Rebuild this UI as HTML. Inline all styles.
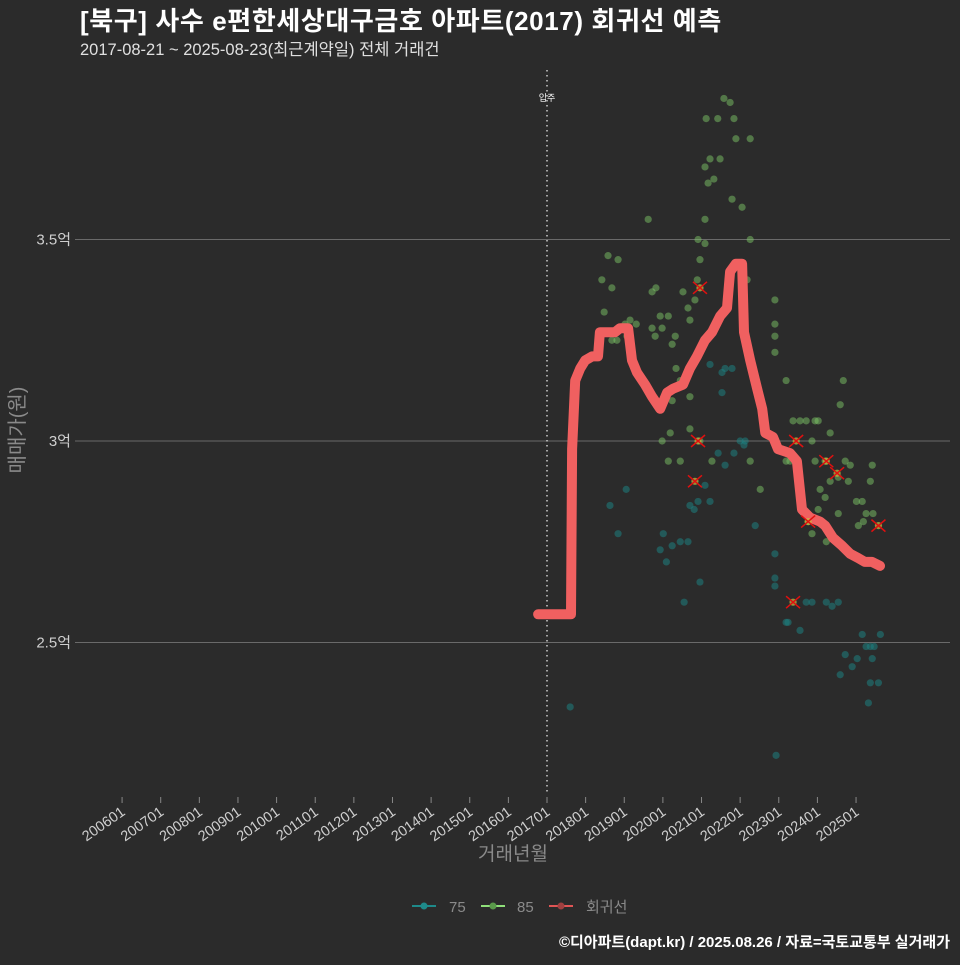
<!DOCTYPE html>
<html><head><meta charset="utf-8"><style>
body{margin:0;background:#2b2b2b;}
svg text{font-family:"Liberation Sans","Noto Sans CJK KR",sans-serif;}
</style></head><body>
<svg id="c" width="960" height="960" xmlns="http://www.w3.org/2000/svg">
<rect width="960" height="960" fill="#2b2b2b"/>
<text x="80" y="30" font-size="26" font-weight="bold" letter-spacing="0.6" fill="#ffffff">[북구] 사수 e편한세상대구금호 아파트(2017) 회귀선 예측</text>
<text x="80" y="55" font-size="16.5" fill="#e0e0e0">2017-08-21 ~ 2025-08-23(최근계약일) 전체 거래건</text>
<g id="grid"></g><g id="pts"></g><g id="line"></g><g id="marks"></g><g id="axes"></g>
<text transform="translate(24,430) rotate(-90)" text-anchor="middle" font-size="20" fill="#8a8a8a">매매가(원)</text>
<text x="513" y="860" text-anchor="middle" font-size="19" fill="#8a8a8a">거래년월</text>
<g>
<g><line x1="412" y1="906" x2="436" y2="906" stroke="#1e8a8a" stroke-width="2"/><circle cx="424" cy="906" r="3.5" fill="#1e8a8a"/><text x="449" y="912" font-size="15" fill="#8a8a8a">75</text></g>
<g><line x1="481" y1="906" x2="505" y2="906" stroke="#8fe07a" stroke-width="2"/><circle cx="493" cy="906" r="3.5" fill="#5a9a4a"/><text x="517" y="912" font-size="15" fill="#8a8a8a">85</text></g>
<g><line x1="549" y1="906" x2="573" y2="906" stroke="#e05555" stroke-width="2"/><circle cx="561" cy="906" r="3.5" fill="#a04040"/><text x="586" y="912" font-size="15" fill="#8a8a8a">회귀선</text></g>
</g>
<text x="950" y="947" text-anchor="end" font-size="15" font-weight="bold" fill="#ffffff">©디아파트(dapt.kr) / 2025.08.26 / 자료=국토교통부 실거래가</text>
</svg>
<script>
const yTicks=[2.5,3,3.5];
const yTickLabels=["2.5억","3억","3.5억"];
const xTickYears=[2006,2007,2008,2009,2010,2011,2012,2013,2014,2015,2016,2017,2018,2019,2020,2021,2022,2023,2024,2025];
const moveInYear=2017;
const lineT=[2016.77,2017.62,2017.65,2017.73,2017.86,2017.99,2018.17,2018.32,2018.37,2018.76,2018.89,2019.10,2019.20,2019.33,2019.54,2019.72,2019.93,2020.11,2020.27,2020.52,2020.70,2020.88,2021.09,2021.27,2021.48,2021.66,2021.74,2021.89,2022.05,2022.10,2022.26,2022.44,2022.57,2022.65,2022.85,2022.98,2023.29,2023.47,2023.60,2023.81,2024.07,2024.20,2024.40,2024.64,2024.85,2025.05,2025.23,2025.41,2025.62];
const lineV=[2.57,2.57,2.98,3.15,3.18,3.20,3.21,3.21,3.27,3.27,3.28,3.28,3.20,3.17,3.14,3.11,3.08,3.12,3.13,3.14,3.18,3.21,3.25,3.27,3.31,3.33,3.42,3.44,3.44,3.27,3.20,3.13,3.08,3.02,3.01,2.98,2.97,2.95,2.83,2.81,2.80,2.79,2.76,2.74,2.72,2.71,2.70,2.70,2.69];
const g85T=[2018.42,2018.58,2018.68,2018.84,2018.68,2018.81,2018.48,2019.02,2019.15,2019.07,2019.31,2019.62,2019.72,2019.82,2019.72,2019.80,2019.93,2019.98,2020.14,2020.24,2020.32,2020.52,2020.65,2020.34,2020.45,2020.24,2020.70,2020.70,2020.83,2020.89,2020.96,2020.91,2021.09,2021.09,2021.17,2021.09,2021.12,2021.22,2021.32,2021.42,2021.48,2021.58,2021.74,2021.84,2021.89,2021.79,2022.05,2022.26,2022.26,2022.18,2022.90,2022.90,2022.90,2022.90,2023.19,2023.37,2023.55,2023.71,2023.94,2024.02,2023.86,2023.29,2023.19,2023.94,2024.20,2024.33,2024.59,2024.67,2024.07,2024.33,2024.54,2024.72,2024.80,2024.85,2025.01,2025.16,2025.42,2025.26,2025.37,2025.44,2025.19,2025.06,2024.20,2024.02,2023.76,2023.86,2024.23,2024.54,2020.19,2020.14,2019.98,2020.45,2020.70,2020.96,2021.27,2022.26,2022.52];
const g85V=[3.40,3.46,3.38,3.45,3.25,3.25,3.32,3.29,3.30,3.26,3.29,3.55,3.37,3.38,3.28,3.26,3.31,3.28,3.31,3.24,3.26,3.37,3.33,3.18,3.15,3.10,3.11,3.30,3.35,3.40,3.45,3.50,3.49,3.55,3.64,3.68,3.80,3.70,3.65,3.80,3.70,3.85,3.84,3.80,3.75,3.60,3.58,3.75,3.50,3.40,3.35,3.29,3.26,3.22,3.15,3.05,3.05,3.05,3.05,3.05,3.00,2.95,2.95,2.95,2.95,3.02,3.09,3.15,2.88,2.90,2.91,2.95,2.90,2.94,2.85,2.85,2.94,2.82,2.90,2.82,2.80,2.79,2.86,2.83,2.80,2.77,2.75,2.82,3.02,2.95,3.00,2.95,3.03,3.00,2.95,2.95,2.88];
const g75T=[2017.60,2018.63,2018.84,2019.05,2020.01,2019.93,2020.09,2020.24,2020.45,2020.65,2020.70,2020.81,2020.91,2021.09,2021.22,2020.55,2020.96,2021.43,2021.61,2021.84,2022.00,2022.13,2021.79,2021.53,2021.61,2021.22,2021.53,2022.10,2022.39,2022.90,2022.90,2022.90,2023.24,2023.19,2023.55,2023.71,2023.86,2024.23,2024.38,2024.54,2024.59,2024.72,2024.90,2025.03,2025.37,2025.16,2025.26,2025.47,2025.32,2025.58,2025.37,2025.63,2025.42,2022.93];
const g75V=[2.34,2.84,2.77,2.88,2.77,2.73,2.70,2.74,2.75,2.75,2.84,2.83,2.85,2.89,2.85,2.60,2.65,2.97,2.94,2.97,3.00,3.00,3.18,3.17,3.18,3.19,3.12,2.99,2.79,2.72,2.66,2.64,2.55,2.55,2.53,2.60,2.60,2.60,2.59,2.60,2.42,2.47,2.44,2.46,2.49,2.52,2.49,2.49,2.35,2.40,2.40,2.52,2.46,2.22];
const xMarkT=[2020.96,2020.91,2020.83,2023.37,2023.45,2023.76,2024.23,2024.51,2025.58];
const xMarkV=[3.38,3.00,2.90,2.60,3.00,2.80,2.95,2.92,2.79];
const NS="http://www.w3.org/2000/svg";
function X(t){return 547+(t-2017)*38.63;}
function Y(v){return 441-(v-3)*403;}
function mk(tag,attrs,parent){const e=document.createElementNS(NS,tag);for(const k in attrs)e.setAttribute(k,attrs[k]);parent.appendChild(e);return e;}
const grid=document.getElementById('grid'),axes=document.getElementById('axes');
yTicks.forEach((v,i)=>{
  const l=mk('line',{x1:75,x2:950,y1:Y(v),y2:Y(v),stroke:'#6a6a6a','stroke-width':1},grid);
  
  
  const t=mk('text',{x:71,y:Y(v)+5,'text-anchor':'end','font-size':15,fill:'#cfcfcf'},axes);
  t.textContent=yTickLabels[i];
  
  
});
xTickYears.forEach(yr=>{
  const x=X(yr);
  const tk=mk('line',{x1:x,x2:x,y1:797,y2:803,stroke:'#888','stroke-width':1},axes);
  
  
  const t=mk('text',{transform:`translate(${x+4},${814}) rotate(-35)`,'text-anchor':'end','font-size':14.5,fill:'#cfcfcf'},axes);
  t.textContent=yr+'01';
  
  
});
const mv=mk('line',{x1:X(moveInYear),x2:X(moveInYear),y1:70,y2:792,stroke:'#cccccc','stroke-width':1.5,'stroke-dasharray':'1.5 3.5'},grid);


const mt=mk('text',{x:X(moveInYear),y:101,'text-anchor':'middle','font-size':9,fill:'#ffffff'},grid);
mt.textContent='입주';


const pts=document.getElementById('pts');
g75T.forEach((t,i)=>{
  const c=mk('circle',{cx:X(t),cy:Y(g75V[i]),r:3.6,fill:'#1e8080','fill-opacity':0.55},pts);
  
  
});
g85T.forEach((t,i)=>{
  const c=mk('circle',{cx:X(t),cy:Y(g85V[i]),r:3.6,fill:'#7cc466','fill-opacity':0.5},pts);
  
  
});
let d='';lineT.forEach((t,i)=>{d+=(i?'L':'M')+X(t).toFixed(1)+','+Y(lineV[i]).toFixed(1);});
const rl=mk('path',{d:d,fill:'none',stroke:'#f06060','stroke-width':10,'stroke-linejoin':'round','stroke-linecap':'round'},document.getElementById('line'));


const marks=document.getElementById('marks');
xMarkT.forEach((t,i)=>{
  const x=X(t),y=Y(xMarkV[i]);
  const g=mk('g',{},marks);
  
  
  mk('circle',{cx:x,cy:y,r:3.6,fill:'#c8c040','fill-opacity':0.7},g);
  mk('path',{d:`M${x-7},${y-6}L${x+7},${y+6}M${x-7},${y+6}L${x+7},${y-6}`,stroke:'#e01010','stroke-width':1.5},g);
});
</script>
</body></html>
